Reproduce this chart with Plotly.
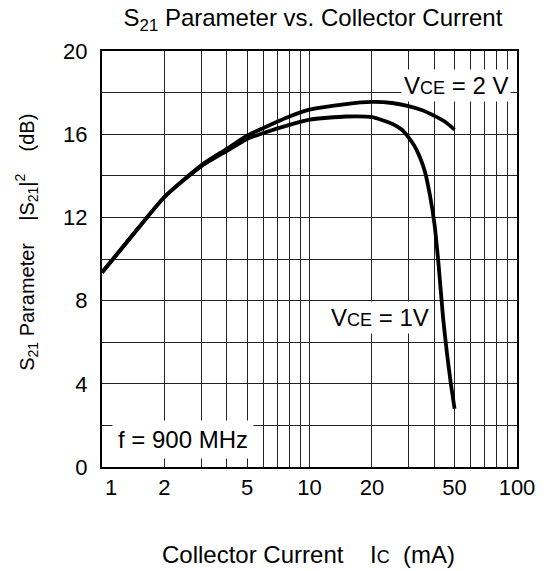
import plotly.graph_objects as go

# Data
ic_2v = [1, 1.5, 2, 3, 4, 5, 6, 8, 10, 15, 20, 25, 30, 35, 40, 45, 50]
s21_2v = [9.35, 11.5, 12.98, 14.5, 15.3, 15.93, 16.3, 16.85, 17.18, 17.45, 17.55, 17.5, 17.35, 17.15, 16.88, 16.6, 16.22]

ic_1v = [1, 1.5, 2, 3, 4, 5, 6, 8, 10, 15, 20, 25, 28, 30, 32, 34, 36, 38, 40, 42, 44, 46, 48, 50]
s21_1v = [9.35, 11.5, 12.98, 14.45, 15.2, 15.77, 16.06, 16.45, 16.7, 16.85, 16.82, 16.5, 16.2, 15.85, 15.45, 14.9, 14.2, 13.1, 11.7, 9.6, 7.2, 5.45, 4.0, 2.8]

x_grid = [m * d for d in (1, 10) for m in range(1, 10)] + [100]
x_labels = {1: "&nbsp;&nbsp;&nbsp;1", 2: "2", 5: "5", 10: "10", 20: "20", 50: "50", 100: "100"}
y_grid = list(range(0, 21, 2))
y_labels = {v: str(v) for v in range(0, 21, 4)}

FONT = "Liberation Sans, Arial, sans-serif"

fig = go.Figure()
for xs, ys in ((ic_2v, s21_2v), (ic_1v, s21_1v)):
    fig.add_trace(go.Scatter(x=xs, y=ys, mode="lines",
                             line=dict(color="black", width=3.8, shape="spline", smoothing=0.6),
                             showlegend=False, hoverinfo="skip"))

fig.update_layout(
    width=550, height=571,
    margin=dict(l=101.5, r=33.3, t=50.7, b=103.7),
    paper_bgcolor="white", plot_bgcolor="white",
    font=dict(family=FONT, size=22, color="black"),
    title=dict(text="S<sub>21</sub> Parameter vs. Collector Current",
               x=0.569, xanchor="center", y=0.970, yanchor="middle",
               font=dict(size=24, family=FONT, color="black")),
)

fig.update_xaxes(type="log", range=[0, 2],
                 tickvals=x_grid, ticktext=[x_labels.get(v, "") for v in x_grid],
                 showgrid=True, gridcolor="#222", gridwidth=1,
                 showline=True, linecolor="black", linewidth=2, mirror=True,
                 ticks="", tickfont=dict(size=22), zeroline=False)
fig.update_yaxes(range=[0, 20],
                 tickvals=y_grid, ticktext=[y_labels.get(v, "") for v in y_grid],
                 showgrid=True, gridcolor="#222", gridwidth=1,
                 showline=True, linecolor="black", linewidth=2, mirror=True,
                 ticks="", tickfont=dict(size=22), ticklabelstandoff=8, zeroline=False)

small = "<span style='font-size:18px'>"
fig.add_annotation(x=1.707, y=18.33, xref="x", yref="y",
                   text="V" + small + "CE</span> = 2 V", showarrow=False,
                   bgcolor="white", borderpad=2, font=dict(size=24))
fig.add_annotation(x=1.342, y=7.18, xref="x", yref="y",
                   text="V" + small + "CE</span> = 1V", showarrow=False,
                   bgcolor="white", borderpad=2, font=dict(size=24))
fig.add_annotation(x=0.391, y=1.31, xref="x", yref="y",
                   text="f = 900 MHz", showarrow=False,
                   bgcolor="white", borderpad=5, font=dict(size=24))

fig.add_annotation(x=-0.182, y=0.54, xref="paper", yref="paper",
                   xanchor="center", yanchor="middle",
                   text="S<sub>21</sub> Parameter&nbsp;&nbsp;&nbsp;&nbsp;|S<sub>21</sub>|<sup>2</sup>"
                        + "&nbsp;" * 4 + "(dB)",
                   textangle=-90, showarrow=False, font=dict(size=20))
fig.add_annotation(x=0.498, y=-0.2105, xref="paper", yref="paper",
                   xanchor="center", yanchor="middle",
                   text="Collector Current&nbsp;&nbsp;&nbsp;&nbsp;I" + small + "C</span>&nbsp;&nbsp;(mA)",
                   showarrow=False, font=dict(size=24))

fig.write_html("out.html")
